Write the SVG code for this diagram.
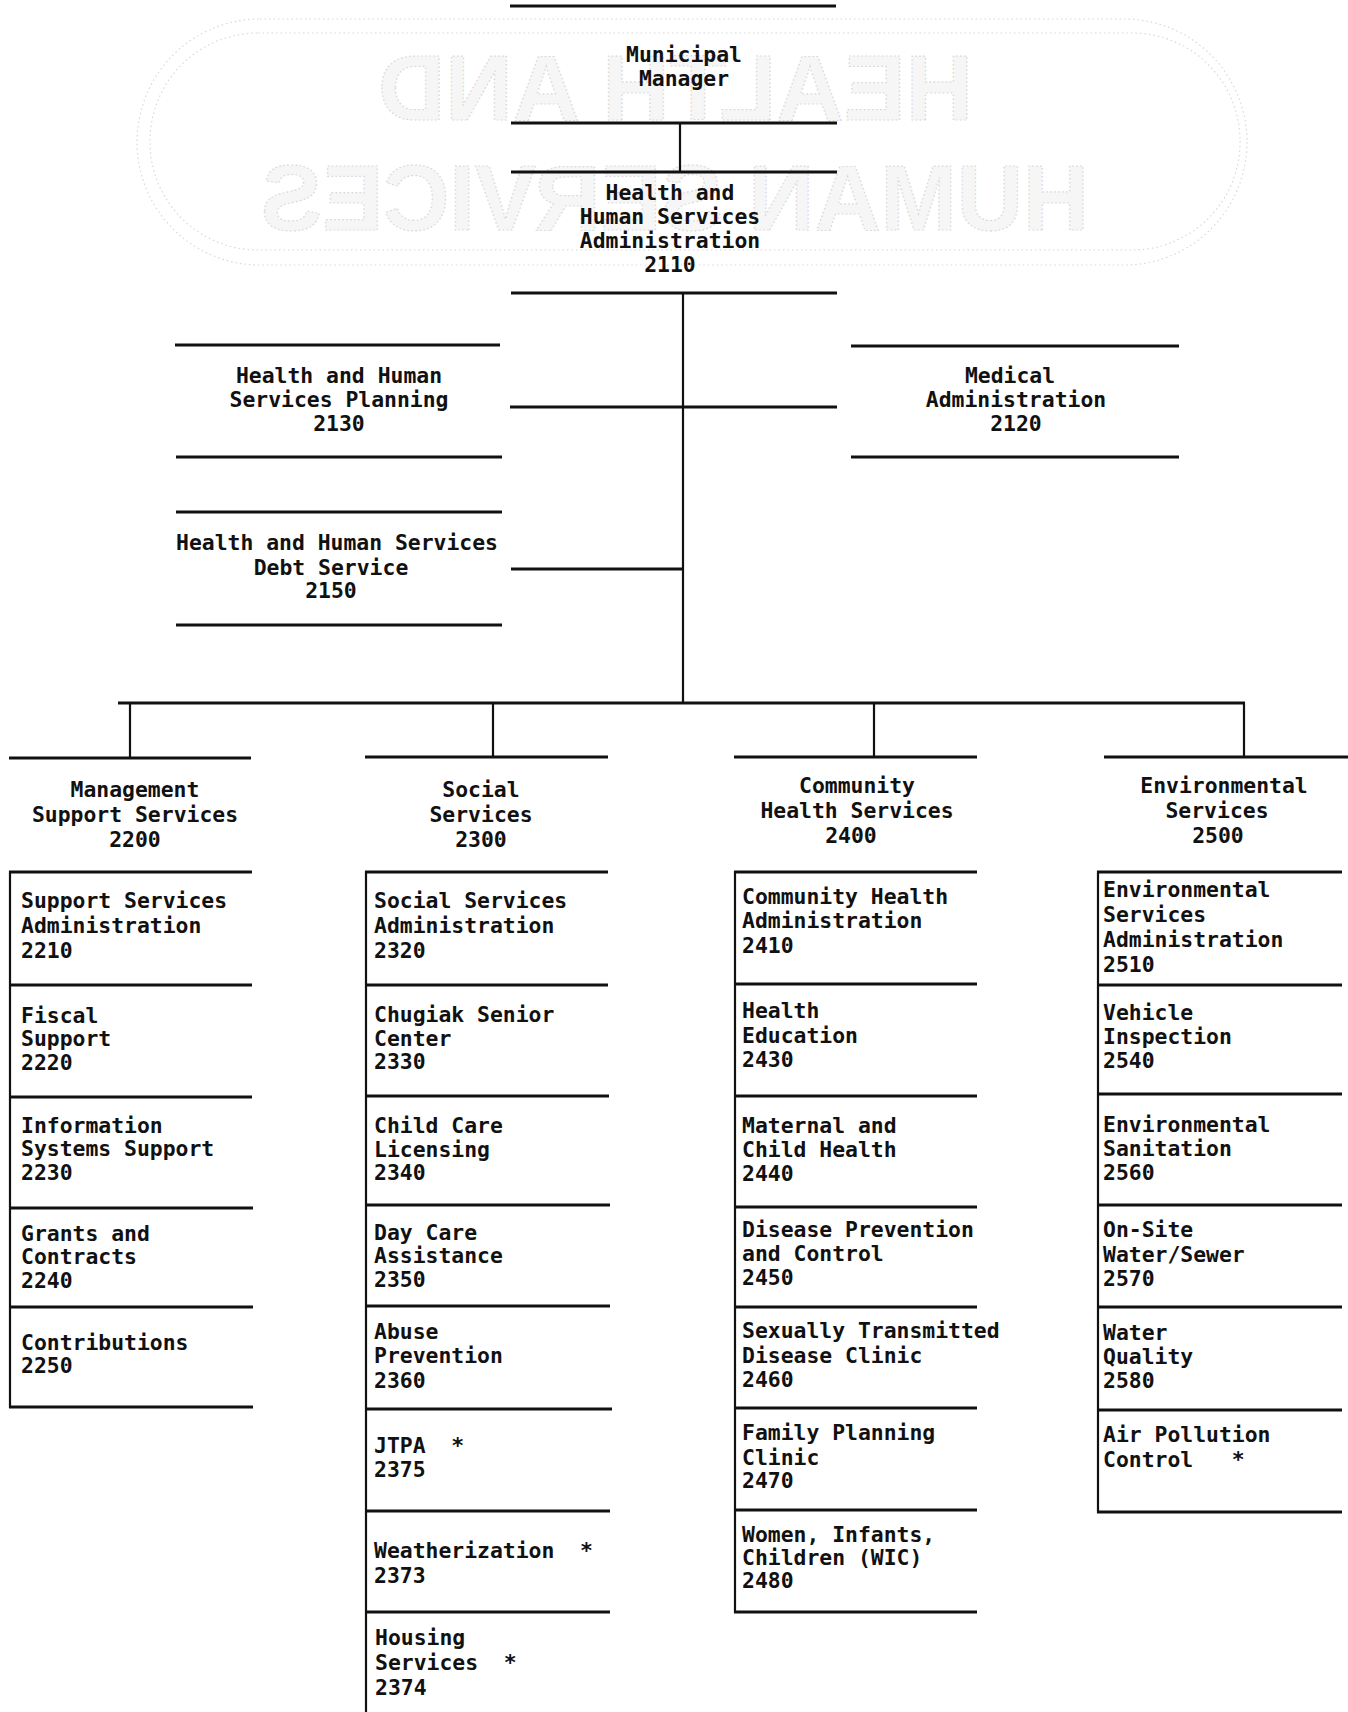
<svg xmlns="http://www.w3.org/2000/svg" width="1348" height="1712" viewBox="0 0 1348 1712">
<style>
.t{font-family:"DejaVu Sans Mono","Liberation Mono",monospace;font-weight:bold;font-size:21.4px;fill:#111;white-space:pre}
.c{text-anchor:middle}
.h{stroke:#111;stroke-width:3;fill:none}
.v{stroke:#111;stroke-width:2.2;fill:none}
.wm{font-family:"Liberation Sans",Arial,sans-serif;font-weight:bold;font-size:92px;fill:#f6f6f6;stroke:#d6d6d6;stroke-width:1.2;stroke-dasharray:1.5 2.5}
.wb{fill:none;stroke:#d8d8d8;stroke-width:1.2;stroke-dasharray:1.5 3}
</style>
<rect width="1348" height="1712" fill="#ffffff"/>

<g id="watermark">
<rect class="wb" x="137" y="19" width="1110" height="246" rx="123" ry="123"/>
<rect class="wb" x="150" y="33" width="1090" height="217" rx="108" ry="108"/>
<g transform="translate(1351,0) scale(-1,1)">
<text class="wm" x="378" y="120" textLength="595" lengthAdjust="spacingAndGlyphs">HEALTH AND</text>
<text class="wm" x="262" y="230" textLength="828" lengthAdjust="spacingAndGlyphs">HUMAN SERVICES</text>
</g>
</g>

<g id="connectors">
<line class="v" x1="680" y1="123" x2="680" y2="172"/>
<line class="v" x1="683" y1="293" x2="683" y2="703"/>
<line class="h" x1="510" y1="407" x2="837" y2="407"/>
<line class="h" x1="511" y1="569" x2="683" y2="569"/>
<line class="h" x1="118" y1="703" x2="1245" y2="703"/>
<line class="v" x1="130" y1="703" x2="130" y2="758"/>
<line class="v" x1="493" y1="703" x2="493" y2="757"/>
<line class="v" x1="874" y1="703" x2="874" y2="757"/>
<line class="v" x1="1244" y1="703" x2="1244" y2="757"/>
</g>

<g id="n-municipal-manager">
<line class="h" x1="510" y1="6" x2="836" y2="6"/>
<line class="h" x1="511" y1="123" x2="837" y2="123"/>
<text class="t c" x="684" y="62">Municipal</text>
<text class="t c" x="684" y="86">Manager</text>
</g>

<g id="n-2110">
<line class="h" x1="511" y1="172" x2="837" y2="172"/>
<line class="h" x1="511" y1="293" x2="837" y2="293"/>
<text class="t c" x="670" y="200">Health and</text>
<text class="t c" x="670" y="224">Human Services</text>
<text class="t c" x="670" y="248">Administration</text>
<text class="t c" x="670" y="272">2110</text>
</g>

<g id="n-2130">
<line class="h" x1="175" y1="345" x2="500" y2="345"/>
<line class="h" x1="176" y1="457" x2="502" y2="457"/>
<text class="t c" x="339" y="383">Health and Human</text>
<text class="t c" x="339" y="407">Services Planning</text>
<text class="t c" x="339" y="431">2130</text>
</g>

<g id="n-2120">
<line class="h" x1="851" y1="346" x2="1179" y2="346"/>
<line class="h" x1="851" y1="457" x2="1179" y2="457"/>
<text class="t c" x="1010" y="383">Medical</text>
<text class="t c" x="1016" y="407">Administration</text>
<text class="t c" x="1016" y="431">2120</text>
</g>

<g id="n-2150">
<line class="h" x1="176" y1="512" x2="502" y2="512"/>
<line class="h" x1="176" y1="625" x2="502" y2="625"/>
<text class="t c" x="337" y="550">Health and Human Services</text>
<text class="t c" x="331" y="575">Debt Service</text>
<text class="t c" x="331" y="598">2150</text>
</g>

<g id="n-2200">
<line class="h" x1="9" y1="758" x2="251" y2="758"/>
<text class="t c" x="135" y="797">Management</text>
<text class="t c" x="135" y="822">Support Services</text>
<text class="t c" x="135" y="847">2200</text>
</g>

<g id="n-2300">
<line class="h" x1="365" y1="757" x2="608" y2="757"/>
<text class="t c" x="481" y="797">Social</text>
<text class="t c" x="481" y="822">Services</text>
<text class="t c" x="481" y="847">2300</text>
</g>

<g id="n-2400">
<line class="h" x1="734" y1="757" x2="977" y2="757"/>
<text class="t c" x="857" y="793">Community</text>
<text class="t c" x="857" y="818">Health Services</text>
<text class="t c" x="851" y="843">2400</text>
</g>

<g id="n-2500">
<line class="h" x1="1104" y1="757" x2="1348" y2="757"/>
<text class="t c" x="1224" y="793">Environmental</text>
<text class="t c" x="1217" y="818">Services</text>
<text class="t c" x="1218" y="843">2500</text>
</g>

<g id="col-2200">
<line class="v" x1="10" y1="871" x2="10" y2="1408"/>
<g id="n-2210"><line class="h" x1="9" y1="872" x2="252" y2="872"/>
<text class="t" x="21" y="908">Support Services</text><text class="t" x="21" y="933">Administration</text><text class="t" x="21" y="958">2210</text></g>
<g id="n-2220"><line class="h" x1="9" y1="985" x2="252" y2="985"/>
<text class="t" x="21" y="1023">Fiscal</text><text class="t" x="21" y="1046">Support</text><text class="t" x="21" y="1070">2220</text></g>
<g id="n-2230"><line class="h" x1="9" y1="1097" x2="252" y2="1097"/>
<text class="t" x="21" y="1133">Information</text><text class="t" x="21" y="1156">Systems Support</text><text class="t" x="21" y="1180">2230</text></g>
<g id="n-2240"><line class="h" x1="9" y1="1208" x2="253" y2="1208"/>
<text class="t" x="21" y="1241">Grants and</text><text class="t" x="21" y="1264">Contracts</text><text class="t" x="21" y="1288">2240</text></g>
<g id="n-2250"><line class="h" x1="9" y1="1307" x2="253" y2="1307"/>
<text class="t" x="21" y="1350">Contributions</text><text class="t" x="21" y="1373">2250</text>
<line class="h" x1="9" y1="1407" x2="253" y2="1407"/></g>
</g>

<g id="col-2300">
<line class="v" x1="366" y1="871" x2="366" y2="1712"/>
<g id="n-2320"><line class="h" x1="365" y1="872" x2="608" y2="872"/>
<text class="t" x="374" y="908">Social Services</text><text class="t" x="374" y="933">Administration</text><text class="t" x="374" y="958">2320</text></g>
<g id="n-2330"><line class="h" x1="365" y1="985" x2="608" y2="985"/>
<text class="t" x="374" y="1022">Chugiak Senior</text><text class="t" x="374" y="1046">Center</text><text class="t" x="374" y="1069">2330</text></g>
<g id="n-2340"><line class="h" x1="365" y1="1096" x2="609" y2="1096"/>
<text class="t" x="374" y="1133">Child Care</text><text class="t" x="374" y="1157">Licensing</text><text class="t" x="374" y="1180">2340</text></g>
<g id="n-2350"><line class="h" x1="365" y1="1205" x2="610" y2="1205"/>
<text class="t" x="374" y="1240">Day Care</text><text class="t" x="374" y="1263">Assistance</text><text class="t" x="374" y="1287">2350</text></g>
<g id="n-2360"><line class="h" x1="365" y1="1306" x2="610" y2="1306"/>
<text class="t" x="374" y="1339">Abuse</text><text class="t" x="374" y="1363">Prevention</text><text class="t" x="374" y="1388">2360</text></g>
<g id="n-2375"><line class="h" x1="365" y1="1409" x2="612" y2="1409"/>
<text class="t" x="374" y="1453" xml:space="preserve">JTPA  *</text><text class="t" x="374" y="1477">2375</text></g>
<g id="n-2373"><line class="h" x1="365" y1="1511" x2="610" y2="1511"/>
<text class="t" x="374" y="1558" xml:space="preserve">Weatherization  *</text><text class="t" x="374" y="1583">2373</text></g>
<g id="n-2374"><line class="h" x1="365" y1="1612" x2="610" y2="1612"/>
<text class="t" x="375" y="1645">Housing</text><text class="t" x="375" y="1670" xml:space="preserve">Services  *</text><text class="t" x="375" y="1695">2374</text></g>
</g>

<g id="col-2400">
<line class="v" x1="735" y1="871" x2="735" y2="1613"/>
<g id="n-2410"><line class="h" x1="734" y1="872" x2="977" y2="872"/>
<text class="t" x="742" y="904">Community Health</text><text class="t" x="742" y="928">Administration</text><text class="t" x="742" y="953">2410</text></g>
<g id="n-2430"><line class="h" x1="734" y1="984" x2="977" y2="984"/>
<text class="t" x="742" y="1018">Health</text><text class="t" x="742" y="1043">Education</text><text class="t" x="742" y="1067">2430</text></g>
<g id="n-2440"><line class="h" x1="734" y1="1096" x2="977" y2="1096"/>
<text class="t" x="742" y="1133">Maternal and</text><text class="t" x="742" y="1157">Child Health</text><text class="t" x="742" y="1181">2440</text></g>
<g id="n-2450"><line class="h" x1="734" y1="1207" x2="977" y2="1207"/>
<text class="t" x="742" y="1237">Disease Prevention</text><text class="t" x="742" y="1261">and Control</text><text class="t" x="742" y="1285">2450</text></g>
<g id="n-2460"><line class="h" x1="734" y1="1307" x2="977" y2="1307"/>
<text class="t" x="742" y="1338">Sexually Transmitted</text><text class="t" x="742" y="1363">Disease Clinic</text><text class="t" x="742" y="1387">2460</text></g>
<g id="n-2470"><line class="h" x1="734" y1="1408" x2="977" y2="1408"/>
<text class="t" x="742" y="1440">Family Planning</text><text class="t" x="742" y="1465">Clinic</text><text class="t" x="742" y="1488">2470</text></g>
<g id="n-2480"><line class="h" x1="734" y1="1510" x2="977" y2="1510"/>
<text class="t" x="742" y="1542">Women, Infants,</text><text class="t" x="742" y="1565">Children (WIC)</text><text class="t" x="742" y="1588">2480</text>
<line class="h" x1="734" y1="1612" x2="977" y2="1612"/></g>
</g>

<g id="col-2500">
<line class="v" x1="1098" y1="871" x2="1098" y2="1513"/>
<g id="n-2510"><line class="h" x1="1097" y1="872" x2="1342" y2="872"/>
<text class="t" x="1103" y="897">Environmental</text><text class="t" x="1103" y="922">Services</text><text class="t" x="1103" y="947">Administration</text><text class="t" x="1103" y="972">2510</text></g>
<g id="n-2540"><line class="h" x1="1097" y1="985" x2="1342" y2="985"/>
<text class="t" x="1103" y="1020">Vehicle</text><text class="t" x="1103" y="1044">Inspection</text><text class="t" x="1103" y="1068">2540</text></g>
<g id="n-2560"><line class="h" x1="1097" y1="1094" x2="1342" y2="1094"/>
<text class="t" x="1103" y="1132">Environmental</text><text class="t" x="1103" y="1156">Sanitation</text><text class="t" x="1103" y="1180">2560</text></g>
<g id="n-2570"><line class="h" x1="1097" y1="1205" x2="1342" y2="1205"/>
<text class="t" x="1103" y="1237">On-Site</text><text class="t" x="1103" y="1262">Water/Sewer</text><text class="t" x="1103" y="1286">2570</text></g>
<g id="n-2580"><line class="h" x1="1097" y1="1307" x2="1342" y2="1307"/>
<text class="t" x="1103" y="1340">Water</text><text class="t" x="1103" y="1364">Quality</text><text class="t" x="1103" y="1388">2580</text></g>
<g id="n-air"><line class="h" x1="1097" y1="1410" x2="1342" y2="1410"/>
<text class="t" x="1103" y="1442">Air Pollution</text><text class="t" x="1103" y="1467" xml:space="preserve">Control   *</text>
<line class="h" x1="1097" y1="1512" x2="1342" y2="1512"/></g>
</g>
</svg>
